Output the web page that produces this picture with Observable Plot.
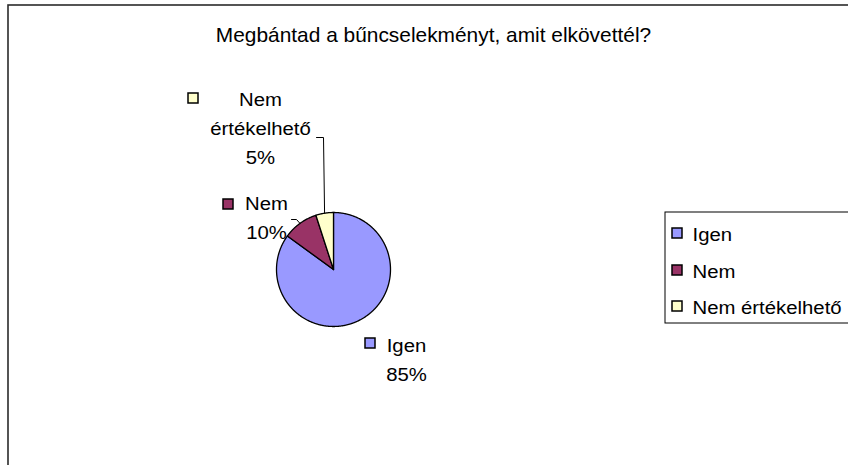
<!DOCTYPE html>
<html><head><meta charset="utf-8">
<script src="https://cdn.jsdelivr.net/npm/d3@7"></script>
<script src="https://cdn.jsdelivr.net/npm/@observablehq/plot@0.6"></script>
<style>html,body{margin:0;padding:0;background:#fff;overflow:hidden} svg{display:block}</style>
</head><body><div id="chart"></div>
<script>
// ---- data ----
const title = "Megbántad a bűncselekményt, amit elkövettél?";
const categories = ["Igen", "Nem", "Nem értékelhető"];
const values = [85, 10, 5];
const colors = ["#9999FF", "#993366", "#FFFFCC"];

// ---- layout ----
const W = 848, H = 465;
const FONT = "Arial, 'Liberation Sans', sans-serif";
const cx = 333, cy = 269, R = 57;
const labelLayout = [
  {x: 406, y: 380, kx: 370, ky: 343},
  {x: 266, y: 238, kx: 228, ky: 204},
  {x: 260, y: 163, kx: 193, ky: 98}
];
const leaderElbows = [[], [[291, 219], [296, 219]], [[316, 137], [323, 137]]];
const legendBox = {x1: 665, x2: 860, y1: 212, y2: 323};
const legendRows = [240, 277, 313];
const legendKeyX = 677, legendTextX = 692;
const keyHalf = 5;

// ---- derived geometry ----
const total = d3.sum(values);
const arcs = d3.pie().sort(null).value(d => d)(values);
const pt = (a, r) => [cx + r * Math.sin(a), cy - r * Math.cos(a)];
const slicePts = [];
arcs.forEach((a, i) => {
  const cat = categories[i];
  slicePts.push({cat, x: cx, y: cy});
  const n = Math.max(2, Math.ceil((a.endAngle - a.startAngle) / (Math.PI / 360)));
  for (let k = 0; k <= n; k++) {
    const ang = a.startAngle + (a.endAngle - a.startAngle) * k / n;
    const [x, y] = pt(ang, R);
    slicePts.push({cat, x, y});
  }
  slicePts.push({cat, x: cx, y: cy});
});
const leaderPts = [];
arcs.forEach((a, i) => {
  if (!leaderElbows[i].length) return;
  const mid = (a.startAngle + a.endAngle) / 2;
  const [mx, my] = pt(mid, R);
  leaderElbows[i].forEach(([x, y]) => leaderPts.push({cat: categories[i], x, y}));
  leaderPts.push({cat: categories[i], x: mx, y: my});
});
const labels = categories.map((c, i) => ({
  cat: c,
  text: `${c}\n${Math.round(values[i] / total * 100)}%`,
  ...labelLayout[i]
}));
const legend = categories.map((c, i) => ({cat: c, y: legendRows[i]}));

const chart = Plot.plot({
  width: W, height: H, margin: 0,
  x: {type: "identity", axis: null},
  y: {type: "identity", axis: null},
  color: {domain: categories, range: colors},
  style: {fontFamily: FONT, background: "#fff", color: "#000"},
  marks: [
    Plot.rect([0], {x1: 8, x2: W + 20, y1: 5, y2: H + 20, fill: "#fff", stroke: "#2b2b2b", strokeWidth: 1.6}),
    Plot.text([title], {x: 433, y: 41, text: d => d, fontSize: 20, lineAnchor: "bottom", fill: "#000"}),
    Plot.line(slicePts, {x: "x", y: "y", z: "cat", fill: "cat", stroke: "#000", strokeWidth: 1.3, strokeLinejoin: "round"}),
    Plot.line(leaderPts, {x: "x", y: "y", z: "cat", stroke: "#000", strokeWidth: 1}),
    Plot.rect(labels, {x1: d => d.kx - keyHalf, x2: d => d.kx + keyHalf, y1: d => d.ky - keyHalf, y2: d => d.ky + keyHalf, fill: "cat", stroke: "#000", strokeWidth: 1.5}),
    Plot.text(labels, {x: "x", y: "y", text: "text", fontSize: 18, lineWidth: 6, lineHeight: 1.6, lineAnchor: "bottom", textAnchor: "middle", fill: "#000"}),
    Plot.rect([0], {x1: legendBox.x1, x2: legendBox.x2, y1: legendBox.y1, y2: legendBox.y2, fill: "#fff", stroke: "#000", strokeWidth: 1}),
    Plot.rect(legend, {x1: legendKeyX - keyHalf, x2: legendKeyX + keyHalf, y1: d => d.y - 7 - keyHalf, y2: d => d.y - 7 + keyHalf, fill: "cat", stroke: "#000", strokeWidth: 1.5}),
    Plot.text(legend, {x: legendTextX, y: "y", text: "cat", fontSize: 18, lineAnchor: "bottom", textAnchor: "start", fill: "#000"})
  ]
});
document.getElementById("chart").appendChild(chart);

// widen glyphs slightly (source text is rendered wider than Arial)
chart.querySelectorAll("text").forEach(t => {
  const fs = parseFloat(getComputedStyle(t).fontSize);
  const s = fs >= 20 ? 1.045 : 1.13;
  const bb = t.getBBox();
  const anchor = getComputedStyle(t).textAnchor;
  const ax = anchor === "middle" ? bb.x + bb.width / 2 : anchor === "end" ? bb.x + bb.width : bb.x;
  const tr = t.getAttribute("transform") || "";
  t.setAttribute("transform", `${tr} translate(${ax},0) scale(${s},1) translate(${-ax},0)`);
});
</script>
</body></html>
